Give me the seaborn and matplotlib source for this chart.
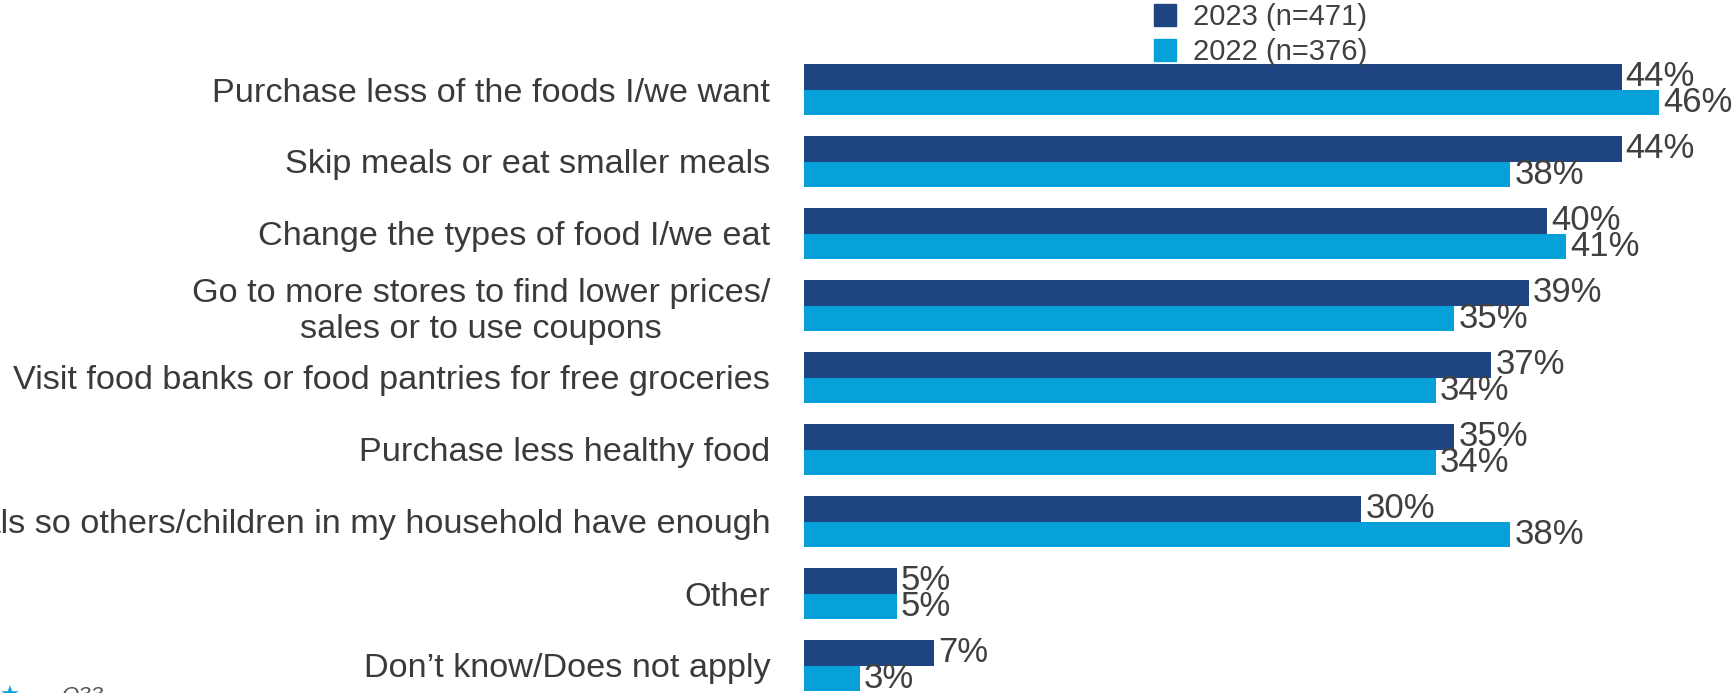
import matplotlib
matplotlib.use("Agg")
import matplotlib.pyplot as plt
import matplotlib.transforms as mtransforms
import seaborn as sns
import pandas as pd

# Survey responses: actions taken because of food prices
categories = [
    "Purchase less of the foods I/we want",
    "Skip meals or eat smaller meals",
    "Change the types of food I/we eat",
    "Go to more stores to find lower prices/\nsales or to use coupons",
    "Visit food banks or food pantries for free groceries",
    "Purchase less healthy food",
    "Skip meals so others/children in my household have enough",
    "Other",
    "Don\u2019t know/Does not apply",
]
series_names = ["2023 (n=471)", "2022 (n=376)"]
values_2023 = [44, 44, 40, 39, 37, 35, 30, 5, 7]
values_2022 = [46, 38, 41, 35, 34, 34, 38, 5, 3]

DARK = "#1E4582"
LIGHT = "#07A1DA"
TEXT = "#404040"

df = pd.DataFrame({
    "category": categories * 2,
    "value": values_2023 + values_2022,
    "series": [series_names[0]] * len(categories) + [series_names[1]] * len(categories),
})

sns.set_theme(style="white")
plt.rcParams["font.family"] = ["Liberation Sans", "DejaVu Sans"]

W, H = 1733, 693
fig = plt.figure(figsize=(W / 100, H / 100), dpi=100)
left_px = 804
ax = fig.add_axes([left_px / W, 0, (W - left_px) / W, 1])

sns.barplot(
    data=df, y="category", x="value", hue="series", orient="h",
    hue_order=series_names, order=categories,
    palette=[DARK, LIGHT], width=0.71, saturation=1, legend=False,
    linewidth=0, ax=ax,
)

px_per_unit = 18.58
ax.set_xlim(0, (W - left_px) / px_per_unit)
ax.set_ylim((H - 89.5) / 72, -89.5 / 72)

shift_down = mtransforms.ScaledTranslation(0, -4 / 100, fig.dpi_scale_trans)
for container in ax.containers:
    labels = ax.bar_label(container, fmt="%g%%", padding=3, fontsize=25, color=TEXT)
    for t in labels:
        t.set_transform(t.get_transform() + shift_down)

ax.set_xlabel("")
ax.set_ylabel("")
ax.set_xticks([])
ax.tick_params(axis="y", length=0, pad=24.3, labelsize=24.7, labelcolor="#3a3a3a")
for lbl in ax.get_yticklabels():
    lbl.set_multialignment("center")
for s in ax.spines.values():
    s.set_visible(False)

handles = [plt.Rectangle((0, 0), 1, 1, color=c) for c in (DARK, LIGHT)]
fig.legend(
    handles, series_names, loc="upper left",
    bbox_to_anchor=(1154 / W, 1 - 3 / H), frameon=False,
    fontsize=21, handlelength=0.75, handleheight=0.75, handletextpad=0.6,
    labelspacing=0.25, borderpad=0, borderaxespad=0, labelcolor=TEXT,
)

# footer fragments at the bottom edge
fig.text(0, 1 - 686 / H, "\u2605", color=LIGHT, fontsize=16, va="top", ha="left",
         family=["DejaVu Sans"])
fig.text(62 / W, 1 - 686 / H, "Q33", color="#555555", fontsize=16, va="top",
         ha="left", style="italic")

fig.savefig("out.png", dpi=100)
